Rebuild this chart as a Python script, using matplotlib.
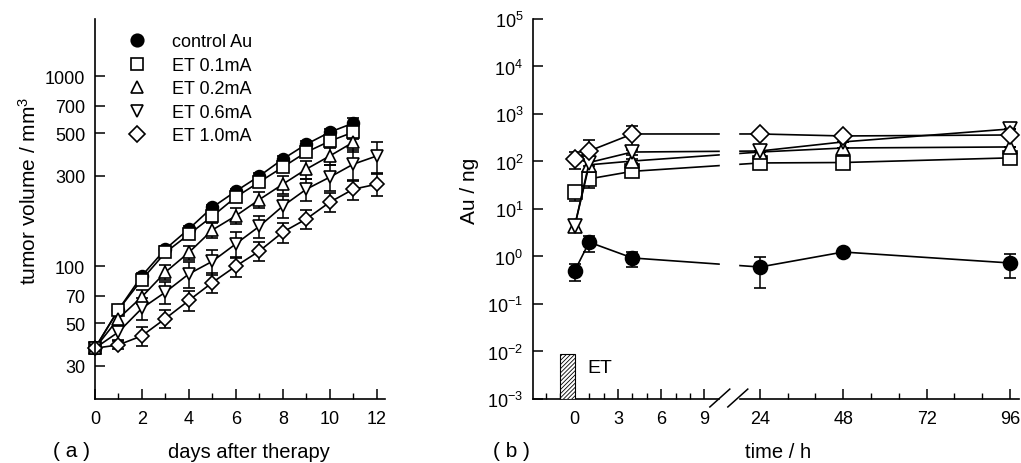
import numpy as np
import matplotlib
matplotlib.use("Agg")
import matplotlib.pyplot as plt
from matplotlib.lines import Line2D
from matplotlib.ticker import NullLocator, LogFormatterMathtext

plt.rcParams['font.family'] = ['Liberation Sans', 'DejaVu Sans']
plt.rcParams['mathtext.fontset'] = 'custom'
plt.rcParams['mathtext.rm'] = 'Liberation Sans'
plt.rcParams['mathtext.it'] = 'Liberation Sans:italic'
plt.rcParams['hatch.linewidth'] = 0.6

# ---- panel (a): tumor volume vs days ----
days = np.arange(13)
ctrl_vol = [37, 59, 89, 123, 157, 204, 248, 298, 366, 438, 507, 566]
et01_vol = [37, 59, 85, 118, 147, 183, 231, 277, 332, 398, 455, 507]
et02_vol = [37, 53, 69, 93, 118, 155, 184, 224, 270, 324, 380, 449]
et06_vol = [37, 45, 60, 73, 91, 106, 131, 162, 207, 254, 294, 344, 380]
et10_vol = [37, 38.5, 43, 53, 66, 82, 100, 120, 151, 177, 217, 254, 270]

ctrl_err = [0, 2, 3, 4, 5, 6, 8, 10, 12, 15, 20, 35]
et01_err = [0, 3, 4, 5, 6, 8, 10, 12, 15, 18, 25, 40]
et02_err = [0, 4, 6, 8, 10, 14, 18, 22, 30, 35, 40, 50]
et06_err = [0, 4, 8, 10, 14, 16, 20, 22, 28, 35, 45, 65, 70]
et10_err = [0, 2, 5, 6, 8, 10, 12, 14, 18, 20, 25, 30, 35]

labels = ['control Au', 'ET 0.1mA', 'ET 0.2mA', 'ET 0.6mA', 'ET 1.0mA']
markers = ['o', 's', '^', 'v', 'D']
faces = ['black', 'white', 'white', 'white', 'white']

# ---- panel (b): Au content vs time ----
hours = [0, 1, 4, 24, 48, 96]
ctrl_au = [0.50, 2.0, 0.93, 0.60, 1.24, 0.73]
et01_au = [23, 43, 62, 93, 95, 119]
et02_au = [4.4, 85, 102, 158, 192, 202]
et06_au = [4.4, 95, 158, 166, 258, 483]
et10_au = [113, 166, 379, 379, 344, 361]

ctrl_au_err = [0.2, 0.75, 0.33, 0.38, 0.1, 0.38]
et01_au_err = [8, 15, 8, 0, 0, 0]
et02_au_err = [0.8, 15, 10, 0, 0, 0]
et06_au_err = [0.8, 15, 20, 0, 0, 0]
et10_au_err = [45, 120, 180, 0, 0, 0]

et_start, et_end, et_top = -1, 0, 9e-3

fig = plt.figure(figsize=(10.21, 4.64), dpi=100)
ax1 = fig.add_axes([0.093, 0.138, 0.284, 0.819])
ax2 = fig.add_axes([0.522, 0.138, 0.476, 0.819])

vols = [ctrl_vol, et01_vol, et02_vol, et06_vol, et10_vol]
errs = [ctrl_err, et01_err, et02_err, et06_err, et10_err]
for v, e, m, fc in zip(vols, errs, markers, faces):
    ms = 8.5 if m != 'D' else 7.5
    ax1.errorbar(days[:len(v)], v, yerr=e, color='black', marker=m, mfc=fc,
                 mec='black', mew=1.2, ms=ms, lw=1.2, elinewidth=1.1,
                 capsize=4, capthick=1.1, clip_on=False)

ax1.set_yscale('log')
ax1.set_ylim(20, 2000)
ax1.set_xlim(0, 12.35)
ax1.set_yticks([30, 50, 70, 100, 300, 500, 700, 1000])
ax1.set_yticklabels(['30', '50', '70', '100', '300', '500', '700', '1000'])
ax1.yaxis.set_minor_locator(NullLocator())
ax1.set_xticks(range(0, 13, 2))
ax1.set_xticks(range(1, 12, 2), minor=True)

handles = []
for m, fc in zip(markers, faces):
    handles.append(Line2D([], [], ls='none', marker=m, mfc=fc, mec='black',
                          mew=1.2, ms=9 if m != 'D' else 8))
ax1.legend(handles, labels, loc='upper left', bbox_to_anchor=(0.07, 0.995),
           frameon=False, fontsize=13, handlelength=1.0, handletextpad=1.45,
           labelspacing=0.36, borderpad=0.2)

ax1.set_xlabel('days after therapy', fontsize=14.5)
ax1.xaxis.set_label_coords(0.53, -0.112)
ax1.set_ylabel('tumor volume / mm$^3$', fontsize=15)
ax1.yaxis.set_label_coords(-0.19, 0.55)
fig.text(0.07, 0.028, '( a )', fontsize=15, ha='center', va='center')

# piecewise scale for the broken time axis
def fwd(t):
    t = np.asarray(t, dtype=float)
    return np.where(t <= 10, t,
                    np.where(t <= 18, 10 + (t - 10) * 0.175,
                             11.4 + (t - 18) * 0.241))

def inv(u):
    u = np.asarray(u, dtype=float)
    return np.where(u <= 10, u,
                    np.where(u <= 11.4, 10 + (u - 10) / 0.175,
                             18 + (u - 11.4) / 0.241))

ax2.set_xscale('function', functions=(fwd, inv))
ax2.set_yscale('log')

aus = [ctrl_au, et01_au, et02_au, et06_au, et10_au]
au_errs = [ctrl_au_err, et01_au_err, et02_au_err, et06_au_err, et10_au_err]
for v, e, m, fc in zip(aus, au_errs, markers, faces):
    ms = 10 if m != 'D' else 9
    ax2.errorbar(hours, v, yerr=e, color='black', marker=m, mfc=fc,
                 mec='black', mew=1.2, ms=ms, lw=1.2, elinewidth=1.1,
                 capsize=4, capthick=1.1, clip_on=False)

ax2.bar((et_start + et_end) / 2, et_top - 1e-3, width=et_end - et_start,
        bottom=1e-3, facecolor='white', edgecolor='black', hatch='////////',
        lw=0.8, zorder=3)
ax2.text(0.9, 4.6e-3, 'ET', fontsize=14, va='center', ha='left')

ax2.set_xlim(-2.9, 98.6)
ax2.set_ylim(1e-3, 1e5)
ax2.set_xticks([0, 3, 6, 9, 24, 48, 72, 96])
ax2.set_xticklabels(['0', '3', '6', '9', '24', '48', '72', '96'])
ax2.set_xticks([-2, -1, 1, 2, 4, 5, 7, 8, 32, 40, 56, 64, 80, 88], minor=True)
ax2.set_yticks([10.0 ** k for k in range(-3, 6)])
ax2.yaxis.set_major_formatter(LogFormatterMathtext())
ax2.yaxis.set_minor_locator(NullLocator())

# axis break
gap = ax2.axvspan(10.4, 17.5, ymin=-0.02, ymax=1, color='white', zorder=5)
gap.set_clip_on(False)
for x0, x1 in [(0.364, 0.405), (0.401, 0.442)]:
    ax2.plot([x0, x1], [-0.021, 0.026], transform=ax2.transAxes,
             color='black', lw=1.1, clip_on=False, zorder=6)

ax2.set_xlabel('time / h', fontsize=14.5)
ax2.xaxis.set_label_coords(0.505, -0.112)
ax2.set_ylabel('Au / ng', fontsize=15)
ax2.yaxis.set_label_coords(-0.112, 0.55)
fig.text(0.501, 0.028, '( b )', fontsize=15, ha='center', va='center')

for ax in (ax1, ax2):
    ax.spines['top'].set_visible(False)
    ax.spines['right'].set_visible(False)
    ax.spines['left'].set_linewidth(1.2)
    ax.spines['bottom'].set_linewidth(1.2)
    ax.tick_params(which='major', direction='in', length=7, width=1.1,
                   labelsize=13, pad=8)
    ax.tick_params(which='minor', direction='in', length=4, width=1.0)
    ax.tick_params(axis='y', pad=7)

fig.savefig('out.png', dpi=100)
